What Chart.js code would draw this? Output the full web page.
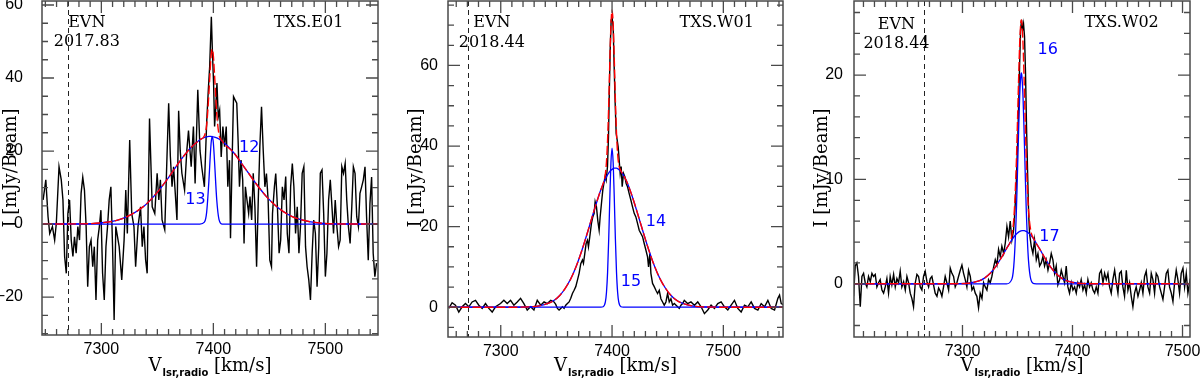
<!DOCTYPE html>
<html>
<head>
<meta charset="utf-8">
<script src="https://cdn.jsdelivr.net/npm/chart.js@4/dist/chart.umd.min.js"></script>
<style>
  html, body { margin: 0; padding: 0; background: #fff; }
  #wrap { position: relative; width: 1200px; height: 379px; }
  .panel { position: absolute; top: 0; width: 400px; height: 379px; }
</style>
</head>
<body>
<div id="wrap">
  <div class="panel" style="left:0"><canvas id="e01" width="400" height="379"></canvas></div>
  <div class="panel" style="left:400px"><canvas id="w01" width="400" height="379"></canvas></div>
  <div class="panel" style="left:800px"><canvas id="w02" width="400" height="379"></canvas></div>
</div>
<script>
// ---- TXS.E01 spectrum (km/s, mJy/beam) ----
const e01Vel = [7248,7250.4,7252.4,7253.9,7256.3,7258.3,7259.8,7262.2,7264.2,7265.7,7267.2,7268.7,7270.1,7271.6,7273.1,7274.6,7276.0,7277.5,7279.0,7280.5,7281.9,7283.4,7284.9,7286.4,7287.8,7289.3,7290.8,7292.3,7293.7,7295.2,7296.7,7298.2,7299.6,7301.1,7302.6,7304.1,7305.5,7307.0,7308.5,7310.0,7311.4,7312.9,7315.9,7318.2,7320.3,7321.8,7323.2,7325.3,7327.1,7329.1,7330.6,7332.7,7335.0,7336.5,7338.0,7339.5,7340.9,7343.0,7345.4,7347.7,7349.8,7351.3,7352.7,7354.2,7356.6,7358.6,7360.1,7361.6,7363.1,7364.5,7366.0,7367.5,7369.0,7370.4,7371.9,7374.3,7376.3,7377.8,7380.2,7382.2,7383.7,7386.1,7388.1,7389.6,7392.0,7394.0,7395.5,
  7396.7,7398.2,7399.1,7400.2,7401.1,7402.0,7403.2,7404.4,7405.6,7407.0,7408.5,7410.0,7411.5,7412.9,7414.4,7415.3,7416.5,7418.0,7419.4,7420.9,7422.1,7423.3,7424.7,7426.2,7427.4,7428.6,7430.0,7431.5,7432.7,7434.2,7435.6,7437.1,7438.6,7440.1,7441.5,7443.0,7444.5,7446.0,7447.4,7448.9,7450.4,7451.9,7452.8,7454.5,7455.7,7457.2,7458.7,7460.1,7461.6,7463.1,7464.6,7466.0,7467.5,7469.0,7470.5,7471.9,7473.4,7474.9,7476.4,7477.8,7479.3,7480.8,7482.3,7483.7,7485.2,7486.7,7488.2,7489.6,7491.1,7492.6,7494.1,7495.5,7497.0,7498.5,7500.0,7501.4,7502.9,7504.4,7505.9,7507.3,7508.8,7510.3,7511.8,7513.2,7514.7,7516.2,7517.7,7519.1,7520.6,7522.1,7523.6,7525.0,7526.5,7528.0,7529.5,7530.9,7532.4,7533.9,7535.4,7536.8,7538.3,7539.8,7541.3,7542.7,7544.2,7545.7];
const e01Flux = [6.6,12.1,2.0,-2.6,-0.7,-4.4,0.2,15.7,12.1,6.6,-8.9,-13.5,2.9,6.6,-4.4,-8.9,-3.5,-8.0,-0.7,-4.4,8.4,12.8,9.3,-0.7,-17.2,-6.2,-4.4,-11.7,-6.2,-20.8,-4.4,-0.7,3.8,-13.5,-20.8,-6.2,-0.7,6.6,10.2,-6.2,-26.3,-0.7,-6.2,-15.3,-4.4,9.3,-2.6,23.0,2.9,-0.7,-11.7,-0.7,4.7,-6.2,-0.7,-9.8,-13.5,28.9,4.7,2.9,13.9,6.6,12.1,1.1,-1.6,18.5,33.1,18.5,10.2,15.7,8.4,1.1,31.0,20.1,13.9,9.3,20.1,25.6,15.7,26.7,11.1,36.8,20.1,15.7,10.2,27.6,36.8,
  43.1,56.8,47.7,38.5,26.7,31.2,38.6,29.4,31.2,18.4,26.7,21.2,26.7,10.2,17.5,-3.9,13.8,34.9,34.0,33.1,22.8,10.2,17.5,12.1,-5.3,10.2,6.6,2.9,7.5,1.1,13.9,4.7,-11.7,6.6,21.2,32.1,20.3,10.2,13.8,6.6,-9.9,-11.7,2.9,10.2,13.8,4.7,-8.0,-4.4,10.2,6.6,13.0,-2.6,-8.0,10.2,16.6,10.2,-2.6,4.7,-8.0,-0.7,13.9,15.7,-6.2,-11.7,-15.3,-20.8,-8.0,1.1,-2.6,-17.2,-6.2,13.9,14.8,2.9,-14.4,-8.0,6.6,12.1,4.7,-2.6,6.6,-0.7,-6.2,-4.4,15.7,13.9,16.6,6.6,-0.7,-5.3,4.7,15.7,13.9,2.0,-0.7,8.4,10.2,12.1,15.7,2.0,-9.9,5.6,12.9,-8.0,-14.4,-10.7];
// ---- TXS.E01 gaussian fit (components 12, 13 and their sum) ----
const e01FitVel = [7248,7278,7298,7318,7338,7348,7358,7368,7378,7388,7392,7394,7396,7397,7398,7399,7400,7401,7403,7405,7408,7418,7428,7438,7448,7458,7468,7478,7498,7518,7547];
const e01Comp12 = [0,0.04,0.27,1.4,4.9,8.0,11.9,16.3,20.3,23.1,23.7,23.9,24.0,24.0,24.0,23.9,23.9,23.8,23.6,23.3,22.7,19.6,15.4,11.1,7.3,4.4,2.4,1.2,0.2,0.02,0];
const e01Comp13 = [0,0,0,0,0,0,0,0,0,0,0.5,3.2,11.7,17.4,22.2,24.0,22.2,17.4,6.7,1.3,0,0,0,0,0,0,0,0,0,0,0];
const e01Sum = [0,0.04,0.27,1.4,4.9,8.0,11.9,16.3,20.3,23.1,24.2,27.1,35.7,41.4,46.2,47.9,46.1,41.2,30.3,24.6,22.7,19.6,15.4,11.1,7.3,4.4,2.4,1.2,0.2,0.02,0];

// ---- TXS.W01 spectrum ----
const w01Vel = [7253.3,7256.3,7259.3,7262.3,7265.3,7268.3,7271.3,7274.3,7277.3,7280.3,7283.3,7286.3,7289.3,7292.3,7295.3,7299.8,7302.8,7305.8,7308.8,7311.8,7314.8,7317.8,7320.8,7323.8,7326.8,7329.8,7332.8,
  7335.9,7338.9,7341.9,7344.9,7347.9,7349.4,7350.9,7352.4,7353.9,7355.4,7356.9,7358.4,7359.9,7361.4,7362.9,7364.4,7365.9,7367.4,7368.9,7370.4,7371.9,7373.4,7374.3,7375.5,7376.7,7377.9,7378.8,7380.0,7381.5,7382.7,7383.9,7384.8,7386.0,7387.2,7388.4,7389.3,7390.5,7391.7,7392.9,7393.8,7394.7,7395.9,7396.8,7397.4,7398.3,7399.2,7400.1,7401.0,7401.9,7402.8,7403.7,7404.6,7405.5,7406.4,7407.3,7408.2,7409.1,7410.3,7411.5,7412.7,7413.9,7415.4,7416.9,7418.4,7419.9,7421.4,7422.9,7424.4,7425.9,7427.4,7428.9,7430.4,7431.9,7432.8,7434.0,7434.9,7436.4,7437.9,7439.4,7440.9,7442.4,7443.9,7445.4,7446.9,7448.4,7449.9,7451.4,7452.9,7454.4,7455.9,7458.9,7460.4,7461.9,7463.4,7464.9,7467.9,7470.9,
  7474.0,7477.0,7480.0,7483.0,7486.0,7489.0,7492.0,7495.0,7498.0,7501.0,7504.0,7507.0,7510.0,7513.0,7516.0,7519.0,7522.0,7525.0,7528.0,7531.0,7534.0,7537.0,7540.0,7543.0,7546.0,7549.0,7550.5,7552.0,7555.0];
const w01Flux = [-0.3,1.1,0.5,-1.2,0.1,0.9,0.1,1.3,1.7,0.5,-0.3,0.9,-0.3,-1.2,0.1,0.9,1.7,0.9,1.7,0.5,1.3,2.2,0.9,-0.7,0.1,-0.7,1.7,
  0.5,1.3,0.9,1.7,1.3,0.7,-0.3,-0.7,-0.3,0.1,-0.3,0.5,0.9,1.3,2.2,3.4,4.2,5.1,6.7,8.4,10.8,11.7,10.9,13.3,15.8,16.6,15.0,17.5,20.8,22.4,23.3,26.2,24.9,21.5,19.1,22.4,25.8,29.1,31.1,32.4,31.5,34.9,42.3,51.4,63.8,71.3,71.7,69.6,59.7,50.6,43.1,41.5,39.8,36.5,33.2,34.9,29.9,33.2,32.4,30.7,29.9,28.2,26.6,24.9,23.3,22.4,20.8,19.1,18.3,17.5,15.8,14.2,12.5,10.0,13.3,8.4,5.9,5.1,4.2,3.4,4.2,2.1,1.3,0.5,1.3,3.4,1.3,2.1,0.5,0.9,0.1,-0.3,0.5,0.9,1.7,0.9,1.3,
  0.5,1.3,0.1,-1.6,-0.7,0.5,-0.3,0.9,1.3,0.1,-0.7,0.5,1.7,-0.3,-1.2,0.5,0.1,1.3,-0.3,-0.7,0.9,0.1,1.7,-0.3,-0.7,2.2,3.0,0.9,0.5];
// ---- TXS.W01 gaussian fit (components 14, 15 and their sum) ----
const w01FitVel = [7253,7313,7323,7333,7343,7348,7353,7358,7363,7368,7373,7378,7383,7388,7390,7392,7394,7395,7396,7397,7398,7399,7400,7401,7402,7403,7404,7405,7406,7408,7410,7413,7418,7423,7428,7433,7438,7443,7448,7453,7458,7463,7473,7483,7503,7555];
const w01Comp14 = [0,0,0.06,0.27,1.0,1.7,2.9,4.7,7.1,10.3,14.2,18.6,23.2,27.6,29.2,30.6,31.8,32.4,32.9,33.3,33.7,34.0,34.2,34.4,34.5,34.5,34.5,34.4,34.2,33.7,32.9,31.3,27.6,23.2,18.6,14.2,10.3,7.1,4.7,2.9,1.7,1.0,0.27,0.06,0,0];
const w01Comp15 = [0,0,0,0,0,0,0,0,0,0,0,0,0,0,0,0.1,1.3,3.7,8.7,16.9,27.1,35.9,39.5,35.9,27.1,16.9,8.7,3.7,1.3,0.1,0,0,0,0,0,0,0,0,0,0,0,0,0,0,0,0];
const w01Sum = [0,0,0.06,0.27,1.0,1.7,2.9,4.7,7.1,10.3,14.2,18.6,23.2,27.6,29.2,30.7,33.1,36.1,41.6,50.2,60.8,69.9,73.7,70.3,61.6,51.4,43.2,38.1,35.5,33.8,32.9,31.3,27.6,23.2,18.6,14.2,10.3,7.1,4.7,2.9,1.7,1.0,0.27,0.06,0,0];

// ---- TXS.W02 spectrum ----
const w02Vel = [7201.0,7202.5,7204.0,7205.5,7207.1,7208.6,7210.1,7211.6,7213.1,7214.6,7216.2,7217.7,7219.2,7220.7,7222.2,7223.7,7225.2,7226.8,7228.3,7229.8,7231.3,7232.8,7234.3,7235.8,7237.4,7238.9,7240.4,7241.9,7243.4,7244.9,7246.5,7248.0,7249.5,7251.0,7252.5,7254.0,7255.5,7257.1,7258.6,7260.1,7261.6,7263.1,7264.6,7266.1,7267.7,7269.2,7270.7,7272.2,7273.7,7275.2,7276.8,7278.3,7279.8,7281.3,7282.8,7284.3,7285.8,7287.4,7288.9,7290.4,7291.9,7293.4,7294.9,7296.4,7298.0,7299.5,7301.0,7302.5,7304.0,7305.5,7307.1,7308.6,7310.1,7311.6,7313.1,7314.6,7316.1,7317.7,7319.2,7320.7,7322.2,7323.7,7325.2,7326.7,7328.3,7329.8,7331.3,7332.8,7334.3,7335.8,7337.4,7338.9,7340.4,7341.9,7343.4,7344.9,7346.4,
  7347.3,7348.8,7350.4,7351.9,7352.8,7353.7,7354.6,7355.5,7356.4,7357.3,7358.2,7359.2,7360.1,
  7361.0,7362.5,7364.0,7365.5,7367.1,7368.6,7370.1,7371.6,7373.1,7374.6,7376.1,7377.7,7379.2,7380.7,7382.2,7383.7,7385.2,7386.7,7388.3,7389.8,7391.3,7392.8,7394.3,7395.8,7397.3,7398.9,7400.4,7401.9,7403.4,7404.9,7406.4,7407.9,7409.5,7411.0,7412.5,7414.0,7415.5,7417.0,7418.6,7420.1,7421.6,7423.1,7424.6,7426.1,7427.7,7429.2,7430.7,7432.2,7433.7,7435.2,7436.7,7438.3,7439.8,7441.3,7442.8,7444.3,7445.8,7447.3,7448.9,7450.4,7451.9,7453.4,7454.9,7456.4,7457.9,7459.5,7461.0,7462.5,7464.0,7465.5,7467.0,7468.5,7470.1,7471.6,7473.1,7474.6,7476.1,7477.6,7479.2,7480.7,7482.2,7483.7,7485.2,7486.7,7488.2,7489.8,7491.3,7492.8,7494.3,7495.8,7497.3,7498.8,7500.4,7501.9,7503.4,7504.9,7507.0];
const w02Flux = [-1.2,1.7,2.0,0.7,-2.2,0.7,1.0,0.1,-0.3,0.7,0.2,1.0,0.7,0.9,-0.3,0.1,0.4,-0.6,-0.9,-0.3,0.5,-0.9,0.7,-0.1,0.9,-0.3,0.5,0.1,1.2,-0.3,0.2,-0.6,0.7,0.1,-0.9,-1.4,-2.2,0.1,0.9,0.7,-0.3,-0.6,0.7,1.2,0.2,-0.3,0.5,0.7,-0.1,-0.9,-1.2,-0.4,-0.7,-1.2,-0.3,0.7,0.1,-0.6,1.5,1.0,0.7,-0.3,0.1,0.7,1.3,1.8,1.0,0.4,-0.3,1.3,0.7,-0.6,-0.3,-0.9,-1.2,-2.3,-0.9,-1.4,0.1,-0.3,-0.6,0.4,0.1,0.7,1.6,2.3,1.8,3.3,2.6,3.6,2.9,3.9,5.5,4.5,6.0,4.2,5.1,
  6.4,9.3,14.4,20.8,24.3,25.3,24.3,24.9,23.7,20.2,15.1,10.6,6.8,
  4.8,3.6,2.9,4.2,2.3,2.9,1.7,2.0,2.6,1.7,2.3,1.3,2.0,2.9,2.3,1.0,1.7,-0.1,0.4,1.3,0.7,0.1,1.7,-0.3,-0.9,0.1,-0.6,-0.3,-0.9,0.1,-0.3,0.4,-0.6,-0.1,-0.9,0.4,-0.3,0.1,-0.6,-0.9,-0.3,-0.9,1.0,1.3,0.1,1.0,0.4,1.0,-0.3,-0.9,0.4,1.3,0.1,-0.9,1.0,1.2,-0.3,-1.2,1.3,-0.6,0.1,-1.2,-2.2,-0.9,-0.3,-1.2,-0.6,0.1,-0.9,0.7,1.2,-0.3,-0.9,1.0,0.4,-0.9,1.0,0.7,-0.3,-0.9,-1.5,-0.3,1.0,1.3,-0.3,-0.9,-1.7,0.1,1.3,0.4,-0.9,1.0,1.5,-0.3,1.0,-0.9,0.5];
// ---- TXS.W02 gaussian fit (components 16, 17 and their sum) ----
const w02FitVel = [7201,7285,7295,7305,7315,7320,7325,7330,7335,7340,7345,7347,7349,7350,7351,7352,7353,7353.5,7354,7355,7356,7357,7358,7359,7360,7362,7365,7370,7375,7380,7385,7390,7395,7405,7415,7507];
const w02Comp17 = [0,0,0.01,0.05,0.27,0.54,0.98,1.62,2.45,3.37,4.24,4.53,4.77,4.87,4.95,5.02,5.06,5.08,5.09,5.1,5.09,5.06,5.02,4.95,4.87,4.66,4.24,3.37,2.45,1.62,0.98,0.54,0.27,0.05,0.01,0];
const w02Comp16 = [0,0,0,0,0,0,0,0,0,0,0.47,2.24,7.0,10.7,14.6,18.0,19.9,20.2,19.9,18.0,14.6,10.7,7.0,4.2,2.24,0.47,0.02,0,0,0,0,0,0,0,0,0];
const w02Sum = [0,0,0.01,0.05,0.27,0.54,0.98,1.62,2.45,3.37,4.71,6.77,11.77,15.57,19.55,23.02,24.96,25.28,24.99,23.1,19.69,15.76,12.02,9.15,7.11,5.13,4.26,3.37,2.45,1.62,0.98,0.54,0.27,0.05,0.01,0];

// ---- tick labels ----
const velTicks = [7300, 7400, 7500];
const e01YTicks = [-20, 0, 20, 40, 60];
const w01YTicks = [0, 20, 40, 60];
const w02YTicks = [0, 10, 20];

const BLUE = '#0000ff';
const RED = '#ff0000';
const FRAME = '#4a4a4a';
const SERIF = '"DejaVu Serif", "Liberation Serif", serif';
const SANS = '"Liberation Sans", "DejaVu Sans", sans-serif';

const pts = (xs, ys) => xs.map((x, i) => ({ x: x, y: ys[i] }));

function axesPlugin(cfg) {
  return {
    id: 'pgAxes',
    beforeDatasetsDraw(chart) {
      const { ctx, chartArea: a, scales } = chart;
      const x = scales.x.getPixelForValue(cfg.evn);
      ctx.save();
      ctx.strokeStyle = '#222';
      ctx.lineWidth = 1;
      ctx.setLineDash([5, 4]);
      ctx.beginPath();
      ctx.moveTo(Math.round(x) + 0.5, a.top);
      ctx.lineTo(Math.round(x) + 0.5, a.bottom);
      ctx.stroke();
      ctx.restore();
    },
    afterDatasetsDraw(chart) {
      const { ctx, chartArea: a, scales } = chart;
      const sx = scales.x, sy = scales.y;
      ctx.save();
      // box
      ctx.strokeStyle = FRAME;
      ctx.lineWidth = 1.5;
      ctx.strokeRect(a.left, a.top, a.right - a.left, a.bottom - a.top);
      // ticks, inward on all four sides
      ctx.lineWidth = 1.3;
      ctx.beginPath();
      for (let k = Math.ceil(sx.min / cfg.xMinor); k * cfg.xMinor <= sx.max; k++) {
        const v = k * cfg.xMinor;
        const len = v % cfg.xMajor === 0 ? 12 : 6;
        const px = sx.getPixelForValue(v);
        ctx.moveTo(px, a.bottom); ctx.lineTo(px, a.bottom - len);
        ctx.moveTo(px, a.top); ctx.lineTo(px, a.top + len);
      }
      for (let k = Math.ceil(sy.min / cfg.yMinor); k * cfg.yMinor <= sy.max; k++) {
        const v = k * cfg.yMinor;
        const len = v % cfg.yMajor === 0 ? 12 : 6;
        const py = sy.getPixelForValue(v);
        ctx.moveTo(a.left, py); ctx.lineTo(a.left + len, py);
        ctx.moveTo(a.right, py); ctx.lineTo(a.right - len, py);
      }
      ctx.stroke();

      // tick labels
      ctx.fillStyle = '#000';
      ctx.font = '16px ' + SANS;
      ctx.textAlign = 'center';
      ctx.textBaseline = 'middle';
      velTicks.forEach(v => {
        const px = sx.getPixelForValue(v);
        if (px >= a.left && px <= a.right) ctx.fillText(String(v), px, a.bottom + 15);
      });
      ctx.textAlign = 'right';
      cfg.yTicks.forEach(v => {
        ctx.fillText(v < 0 ? '\u2212' + (-v) : String(v), a.left - cfg.yGap, sy.getPixelForValue(v));
      });

      // y title
      ctx.save();
      ctx.translate(cfg.yTitleX, 168);
      ctx.rotate(-Math.PI / 2);
      ctx.textAlign = 'center';
      ctx.font = '18px ' + SERIF;
      ctx.fillText('I [mJy/Beam]', 0, 0);
      ctx.restore();

      // x title with subscript
      const big = '18px ' + SERIF, small = 'bold 10px "DejaVu Sans", sans-serif';
      ctx.textAlign = 'left';
      ctx.textBaseline = 'alphabetic';
      ctx.font = big; const wV = ctx.measureText('V').width;
      const wU = ctx.measureText(' [km/s]').width;
      ctx.font = small; const wS = ctx.measureText('lsr,radio').width;
      let tx = (a.left + a.right) / 2 - (wV + wS + wU + 1) / 2;
      ctx.font = big; ctx.fillText('V', tx, 371); tx += wV + 1;
      ctx.font = small; ctx.fillText('lsr,radio', tx, 376); tx += wS;
      ctx.font = big; ctx.fillText(' [km/s]', tx, 371);

      // annotations
      ctx.textAlign = 'center';
      ctx.textBaseline = 'middle';
      cfg.notes.forEach(n => {
        ctx.fillStyle = n.blue ? BLUE : '#000';
        ctx.font = n.blue ? '16px "DejaVu Sans", sans-serif' : '16px ' + SERIF;
        ctx.fillText(n.text, sx.getPixelForValue(n.v), sy.getPixelForValue(n.i));
      });
      ctx.restore();
    }
  };
}

function makePanel(id, s) {
  new Chart(document.getElementById(id), {
    type: 'line',
    data: {
      // first dataset is painted last: red sum on top, spectrum underneath
      datasets: [
        { data: pts(s.fitVel, s.sum), borderColor: RED, borderWidth: 1.4, borderDash: [9, 3], cubicInterpolationMode: 'monotone' },
        { data: pts(s.fitVel, s.compA), borderColor: BLUE, borderWidth: 1.3, cubicInterpolationMode: 'monotone' },
        { data: pts(s.fitVel, s.compB), borderColor: BLUE, borderWidth: 1.3, cubicInterpolationMode: 'monotone' },
        { data: pts(s.vel, s.flux), borderColor: '#000', borderWidth: 1.4, tension: 0 }
      ]
    },
    options: {
      responsive: false,
      animation: false,
      events: [],
      layout: { padding: s.pad },
      elements: { point: { radius: 0 } },
      plugins: { legend: { display: false }, tooltip: { enabled: false } },
      scales: {
        x: { type: 'linear', display: false, min: s.xMin, max: s.xMax },
        y: { type: 'linear', display: false, min: s.yMin, max: s.yMax }
      }
    },
    plugins: [axesPlugin(s)]
  });
}

makePanel('e01', {
  vel: e01Vel, flux: e01Flux, fitVel: e01FitVel, compA: e01Comp12, compB: e01Comp13, sum: e01Sum,
  xMin: 7247, xMax: 7547, yMin: -30.4, yMax: 61.1,
  pad: { left: 42, right: 22, top: 1, bottom: 44 },
  xMinor: 10, xMajor: 100, yMinor: 5, yMajor: 20, yTicks: e01YTicks, yGap: 19, yTitleX: 11,
  evn: 7270,
  notes: [
    { text: 'EVN', v: 7287, i: 55 },
    { text: '2017.83', v: 7287, i: 49.9 },
    { text: 'TXS.E01', v: 7485, i: 55 },
    { text: '12', v: 7432, i: 21, blue: true },
    { text: '13', v: 7384, i: 6.6, blue: true }
  ]
});

makePanel('w01', {
  vel: w01Vel, flux: w01Flux, fitVel: w01FitVel, compA: w01Comp14, compB: w01Comp15, sum: w01Sum,
  xMin: 7252.6, xMax: 7553.6, yMin: -7.4, yMax: 76,
  pad: { left: 48, right: 17, top: 1, bottom: 42 },
  xMinor: 10, xMajor: 100, yMinor: 5, yMajor: 20, yTicks: w01YTicks, yGap: 10, yTitleX: 16,
  evn: 7270.5,
  notes: [
    { text: 'EVN', v: 7292, i: 70.6 },
    { text: '2018.44', v: 7292, i: 65.6 },
    { text: 'TXS.W01', v: 7494, i: 70.6 },
    { text: '14', v: 7439.5, i: 21.1, blue: true },
    { text: '15', v: 7417, i: 6.2, blue: true }
  ]
});

makePanel('w02', {
  vel: w02Vel, flux: w02Flux, fitVel: w02FitVel, compA: w02Comp17, compB: w02Comp16, sum: w02Sum,
  xMin: 7201.4, xMax: 7506.8, yMin: -5.1, yMax: 27.1,
  pad: { left: 54, right: 10, top: 1, bottom: 42 },
  xMinor: 10, xMajor: 100, yMinor: 2, yMajor: 10, yTicks: w02YTicks, yGap: 11, yTitleX: 22,
  evn: 7265,
  notes: [
    { text: 'EVN', v: 7240, i: 24.8 },
    { text: '2018.44', v: 7240, i: 23.0 },
    { text: 'TXS.W02', v: 7444.6, i: 25 },
    { text: '16', v: 7377.4, i: 22.4, blue: true },
    { text: '17', v: 7379, i: 4.5, blue: true }
  ]
});
</script>
</body>
</html>
